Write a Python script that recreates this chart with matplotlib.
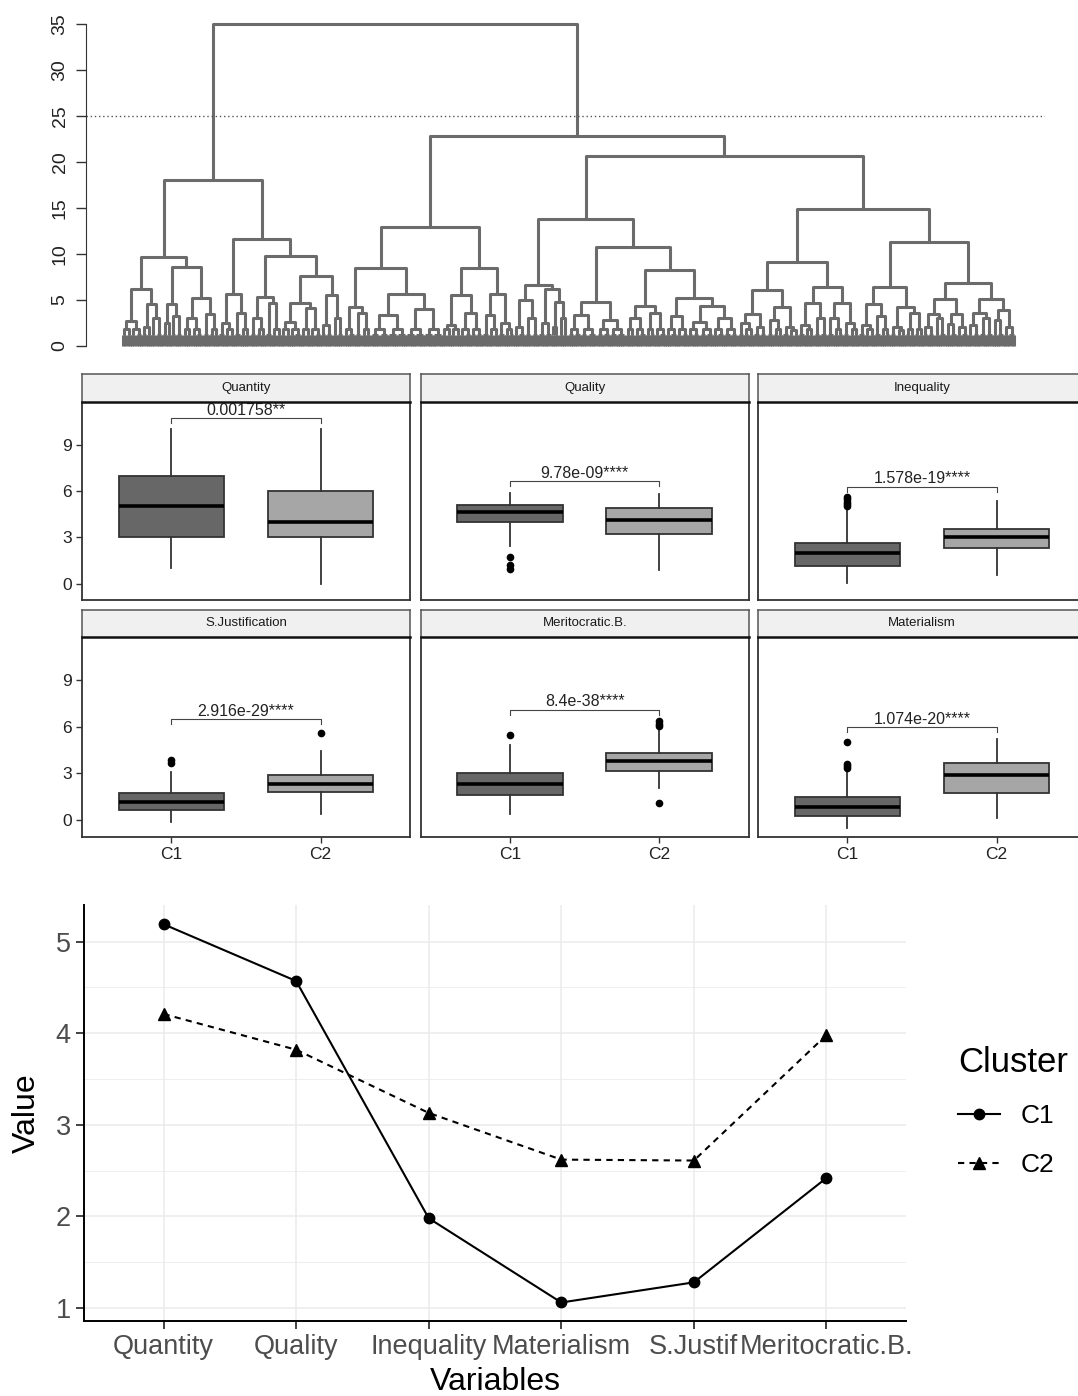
import matplotlib
matplotlib.use('Agg')
from matplotlib import pyplot as plt
from matplotlib.collections import LineCollection
from matplotlib.lines import Line2D
import numpy as np

plt.rcParams['font.family'] = ['Liberation Sans', 'DejaVu Sans']

W, H = 1078, 1396

# ---------------- data ----------------
# dendrogram: internal node = [height, left, right], leaf bundle = (n_leaves, height)
tree = [35.0,
    [18.05,
        [9.66,
            [6.2, (9, 2.7), [4.5, (4, 2.0), (5, 3.0)]],
            [8.53, [4.5, (4, 2.5), (5, 3.2)], [5.16, (9, 3.0), (7, 3.5)]]],
        [11.66,
            [5.6, (7, 2.5), (7, 3.6)],
            [9.8,
                [5.27, (7, 3.0), (7, 4.6)],
                [7.6, [4.7, (9, 2.6), (9, 4.1)], [5.5, (5, 2.2), (5, 3.0)]]]]],
    [22.84,
        [12.96,
            [8.42, [4.2, (5, 1.8), (7, 3.6)], [5.66, (16, 3.3), (16, 4.0)]],
            [8.42, [5.5, (8, 2.3), (10, 3.6)], [5.6, (7, 3.3), (7, 2.5)]]],
        [20.6,
            [13.8,
                [6.6, [5.0, (5, 2.0), (6, 3.0)], [6.2, (6, 2.5), [4.8, (3, 2.0), (4, 3.0)]]],
                [10.7,
                    [4.8, (13, 3.3), (13, 2.8)],
                    [8.2, [4.3, (9, 3.0), (9, 3.6)], [5.2, (10, 3.2), [4.3, (11, 2.6), (11, 3.0)]]]]],
            [14.85,
                [9.15,
                    [6.06, [3.5, (7, 2.5), (6, 2.0)], [4.2, (7, 2.8), (7, 2.0)]],
                    [6.43, [4.6, (7, 2.2), (6, 3.0)], [4.7, (7, 3.0), (7, 2.5)]]],
                [11.33,
                    [6.4, [4.5, (7, 2.3), (7, 3.2)], [4.2, (7, 2.0), (8, 3.6)]],
                    [6.8,
                        [5.1, [3.4, (5, 2.0), (5, 3.0)], [3.5, (5, 2.4), (5, 2.0)]],
                        [5.1, [3.6, (5, 2.2), (6, 3.0)], [3.9, (5, 2.8), (5, 2.0)]]]]]]]]
cut_height = 25

facets = ['Quantity', 'Quality', 'Inequality', 'S.Justification', 'Meritocratic.B.', 'Materialism']
# whislo, q1, median, q3, whishi
c1_stats = [
    [1.0, 3.0, 5.0, 7.0, 10.0],
    [2.46, 4.0, 4.66, 5.07, 5.9],
    [0.03, 1.17, 1.99, 2.65, 4.8],
    [-0.13, 0.67, 1.17, 1.73, 3.11],
    [0.39, 1.64, 2.35, 3.04, 4.83],
    [-0.49, 0.24, 0.84, 1.47, 3.22],
]
c1_outliers = [[], [1.7, 1.2, 0.95], [5.0, 5.15, 5.3, 5.45, 5.6], [3.65, 3.85],
               [5.46], [3.35, 3.5, 3.62, 5.01]]
c2_stats = [
    [0.0, 3.0, 4.0, 6.0, 10.0],
    [0.87, 3.2, 4.12, 4.9, 5.83],
    [0.58, 2.29, 3.02, 3.56, 5.37],
    [0.41, 1.79, 2.31, 2.89, 4.45],
    [2.07, 3.15, 3.78, 4.3, 5.91],
    [0.15, 1.75, 2.87, 3.69, 5.22],
]
c2_outliers = [[], [], [], [5.57], [1.1, 6.05, 6.2, 6.35], []]
p_labels = ['0.001758**', '9.78e-09****', '1.578e-19****', '2.916e-29****', '8.4e-38****', '1.074e-20****']
bracket_y = [10.7, 6.65, 6.28, 6.5, 7.1, 5.98]

variables = ['Quantity', 'Quality', 'Inequality', 'Materialism', 'S.Justif', 'Meritocratic.B.']
c1_means = [5.19, 4.57, 1.98, 1.06, 1.28, 2.42]
c2_means = [4.21, 3.82, 3.13, 2.62, 2.61, 3.98]


def box(l, t, r, b):
    return [l / W, 1 - b / H, (r - l) / W, (b - t) / H]


fig = plt.figure(figsize=(W / 100, H / 100), dpi=100)

# ---------------- dendrogram ----------------
FRINGE = 1.2
SUBJOIN = 1.8
segs = []


def count(node):
    if isinstance(node, tuple):
        return node[0]
    return count(node[1]) + count(node[2])


def comb(s0, k):
    for i in range(k):
        x = s0 + i + 0.5
        segs.append([(x, 0), (x, FRINGE)])
    segs.append([(s0 + 0.5, FRINGE), (s0 + k - 0.5, FRINGE)])
    return s0 + k / 2


def walk(node, start):
    # returns x center and height of node
    if isinstance(node, tuple):
        n, h = node
        nl = n // 2
        tops = []
        for s0, k in [(start, nl), (start + nl, n - nl)]:
            if k >= 4:
                j = min(SUBJOIN, h - 0.3)
                a = comb(s0, k // 2)
                b = comb(s0 + k // 2, k - k // 2)
                segs.append([(a, FRINGE), (a, j), (b, j), (b, FRINGE)])
                tops.append(((a + b) / 2, j))
            else:
                tops.append((comb(s0, k), FRINGE))
        (xa, ha), (xb, hb) = tops
        segs.append([(xa, ha), (xa, h), (xb, h), (xb, hb)])
        return (xa + xb) / 2, h
    h = node[0]
    xl, hl = walk(node[1], start)
    xr, hr = walk(node[2], start + count(node[1]))
    segs.append([(xl, hl), (xl, h), (xr, h), (xr, hr)])
    return (xl + xr) / 2, h


N = count(tree)
walk(tree, 0)

axd = fig.add_axes(box(86, 24, 1045, 345.7))
axd.add_collection(LineCollection(segs, colors='#6b6b6b', linewidths=2.2, clip_on=False))
s = (1015 - 122) / N
axd.set_xlim(-(122 - 86) / s, N + (1045 - 1015) / s)
axd.set_ylim(0, 35)
axd.axhline(cut_height, color='#555555', lw=1.0, ls=(0, (1, 2)))
for sp in ['top', 'right', 'bottom']:
    axd.spines[sp].set_visible(False)
axd.spines['left'].set_bounds(0, 35)
axd.spines['left'].set_color('#333333')
axd.set_xticks([])
axd.set_yticks([0, 5, 10, 15, 20, 25, 30, 35])
axd.tick_params(axis='y', length=7.5, width=1, color='#333333', labelsize=14, pad=5,
                labelrotation=90, labelcolor='#222222')
for lab in axd.get_yticklabels():
    lab.set_va('center')

# ---------------- box plot facets ----------------
col_left = [82, 420.7, 758]
panel_w = 328
rows = [(374, 401.7, 600), (610, 636.7, 836.7)]
fill_c1, fill_c2 = '#676767', '#a6a6a6'

for i, name in enumerate(facets):
    r, c = divmod(i, 3)
    st, pt, pb = rows[r]
    l = col_left[c]
    ax = fig.add_axes(box(l, pt, l + panel_w, pb))
    stats = []
    for vals, outl in [(c1_stats[i], c1_outliers[i]), (c2_stats[i], c2_outliers[i])]:
        stats.append({'whislo': vals[0], 'q1': vals[1], 'med': vals[2], 'q3': vals[3],
                      'whishi': vals[4], 'fliers': outl})
    bp = ax.bxp(stats, positions=[1, 2], widths=0.71, patch_artist=True, showcaps=False,
                boxprops=dict(edgecolor='#333333', linewidth=1.3),
                medianprops=dict(color='black', linewidth=2.6),
                whiskerprops=dict(color='#333333', linewidth=1.3),
                flierprops=dict(marker='o', markerfacecolor='black', markeredgecolor='black',
                                markersize=4.5))
    bp['boxes'][0].set_facecolor(fill_c1)
    bp['boxes'][1].set_facecolor(fill_c2)
    y = bracket_y[i]
    ax.plot([1, 1, 2, 2], [y - 0.32, y, y, y - 0.32], color='#444444', lw=0.8)
    ax.text(1.5, y + 0.02, p_labels[i], ha='center', va='bottom', fontsize=11.5, color='#222222')
    ax.set_xlim(0.4, 2.6)
    ax.set_ylim(-1.06, 11.78)
    ax.set_yticks([0, 3, 6, 9])
    ax.set_xticks([1, 2])
    ax.set_xticklabels(['C1', 'C2'])
    ax.tick_params(axis='both', colors='#333333', length=4, width=1, labelsize=12.5,
                   labelcolor='#222222')
    if c != 0:
        ax.tick_params(axis='y', left=False, labelleft=False)
    if r == 0:
        ax.tick_params(axis='x', bottom=False, labelbottom=False)
    for sp in ax.spines.values():
        sp.set_color('#333333')
        sp.set_linewidth(1.3)
    sax = fig.add_axes(box(l, st, l + panel_w, pt))
    sax.set_facecolor('#f0f0f0')
    sax.set_xticks([])
    sax.set_yticks([])
    for sp in sax.spines.values():
        sp.set_color('#555555')
        sp.set_linewidth(1.1)
    sax.spines['bottom'].set_color('#111111')
    sax.spines['bottom'].set_linewidth(1.8)
    sax.text(0.5, 0.5, name, ha='center', va='center', fontsize=9.5, color='#1a1a1a',
             transform=sax.transAxes)

# ---------------- profile line plot ----------------
axl = fig.add_axes(box(84, 905, 906, 1321))
x = np.arange(1, len(variables) + 1)
axl.plot(x, c1_means, color='black', lw=1.5, marker='o', ms=7.5, label='C1')
axl.plot(x, c2_means, color='black', lw=1.5, ls=(0, (3, 2.5)), marker='^', ms=8.5, label='C2')
axl.set_xlim(0.4, 6.6)
axl.set_ylim(0.858, 5.4)
axl.set_xticks(x)
axl.set_xticklabels(variables)
axl.set_yticks([1, 2, 3, 4, 5])
axl.set_yticks([1.5, 2.5, 3.5, 4.5], minor=True)
axl.grid(which='major', color='#ebebeb', lw=1.1)
axl.grid(which='minor', axis='y', color='#ebebeb', lw=0.6)
axl.set_axisbelow(True)
axl.tick_params(which='minor', length=0)
axl.tick_params(which='major', length=6, width=1.2, color='#222222', labelsize=19.5,
                labelcolor='#4d4d4d')
for sp in ['top', 'right']:
    axl.spines[sp].set_visible(False)
for sp in ['left', 'bottom']:
    axl.spines[sp].set_linewidth(1.4)
    axl.spines[sp].set_color('black')
axl.set_xlabel('Variables', fontsize=23, labelpad=5)
axl.set_ylabel('Value', fontsize=23, labelpad=10)

handles = [Line2D([], [], color='black', lw=1.5, marker='o', ms=7.5),
           Line2D([], [], color='black', lw=1.5, ls=(0, (3, 2.5)), marker='^', ms=8.5)]
leg = fig.legend(handles, ['C1', 'C2'], title='Cluster', loc='upper left',
                 bbox_to_anchor=(934 / W, 1 - 1022 / H), frameon=False, fontsize=19,
                 title_fontsize=25, handlelength=1.6, labelspacing=0.95, handletextpad=0.8)
leg._legend_box.align = 'left'

fig.savefig('out.png', dpi=100)
